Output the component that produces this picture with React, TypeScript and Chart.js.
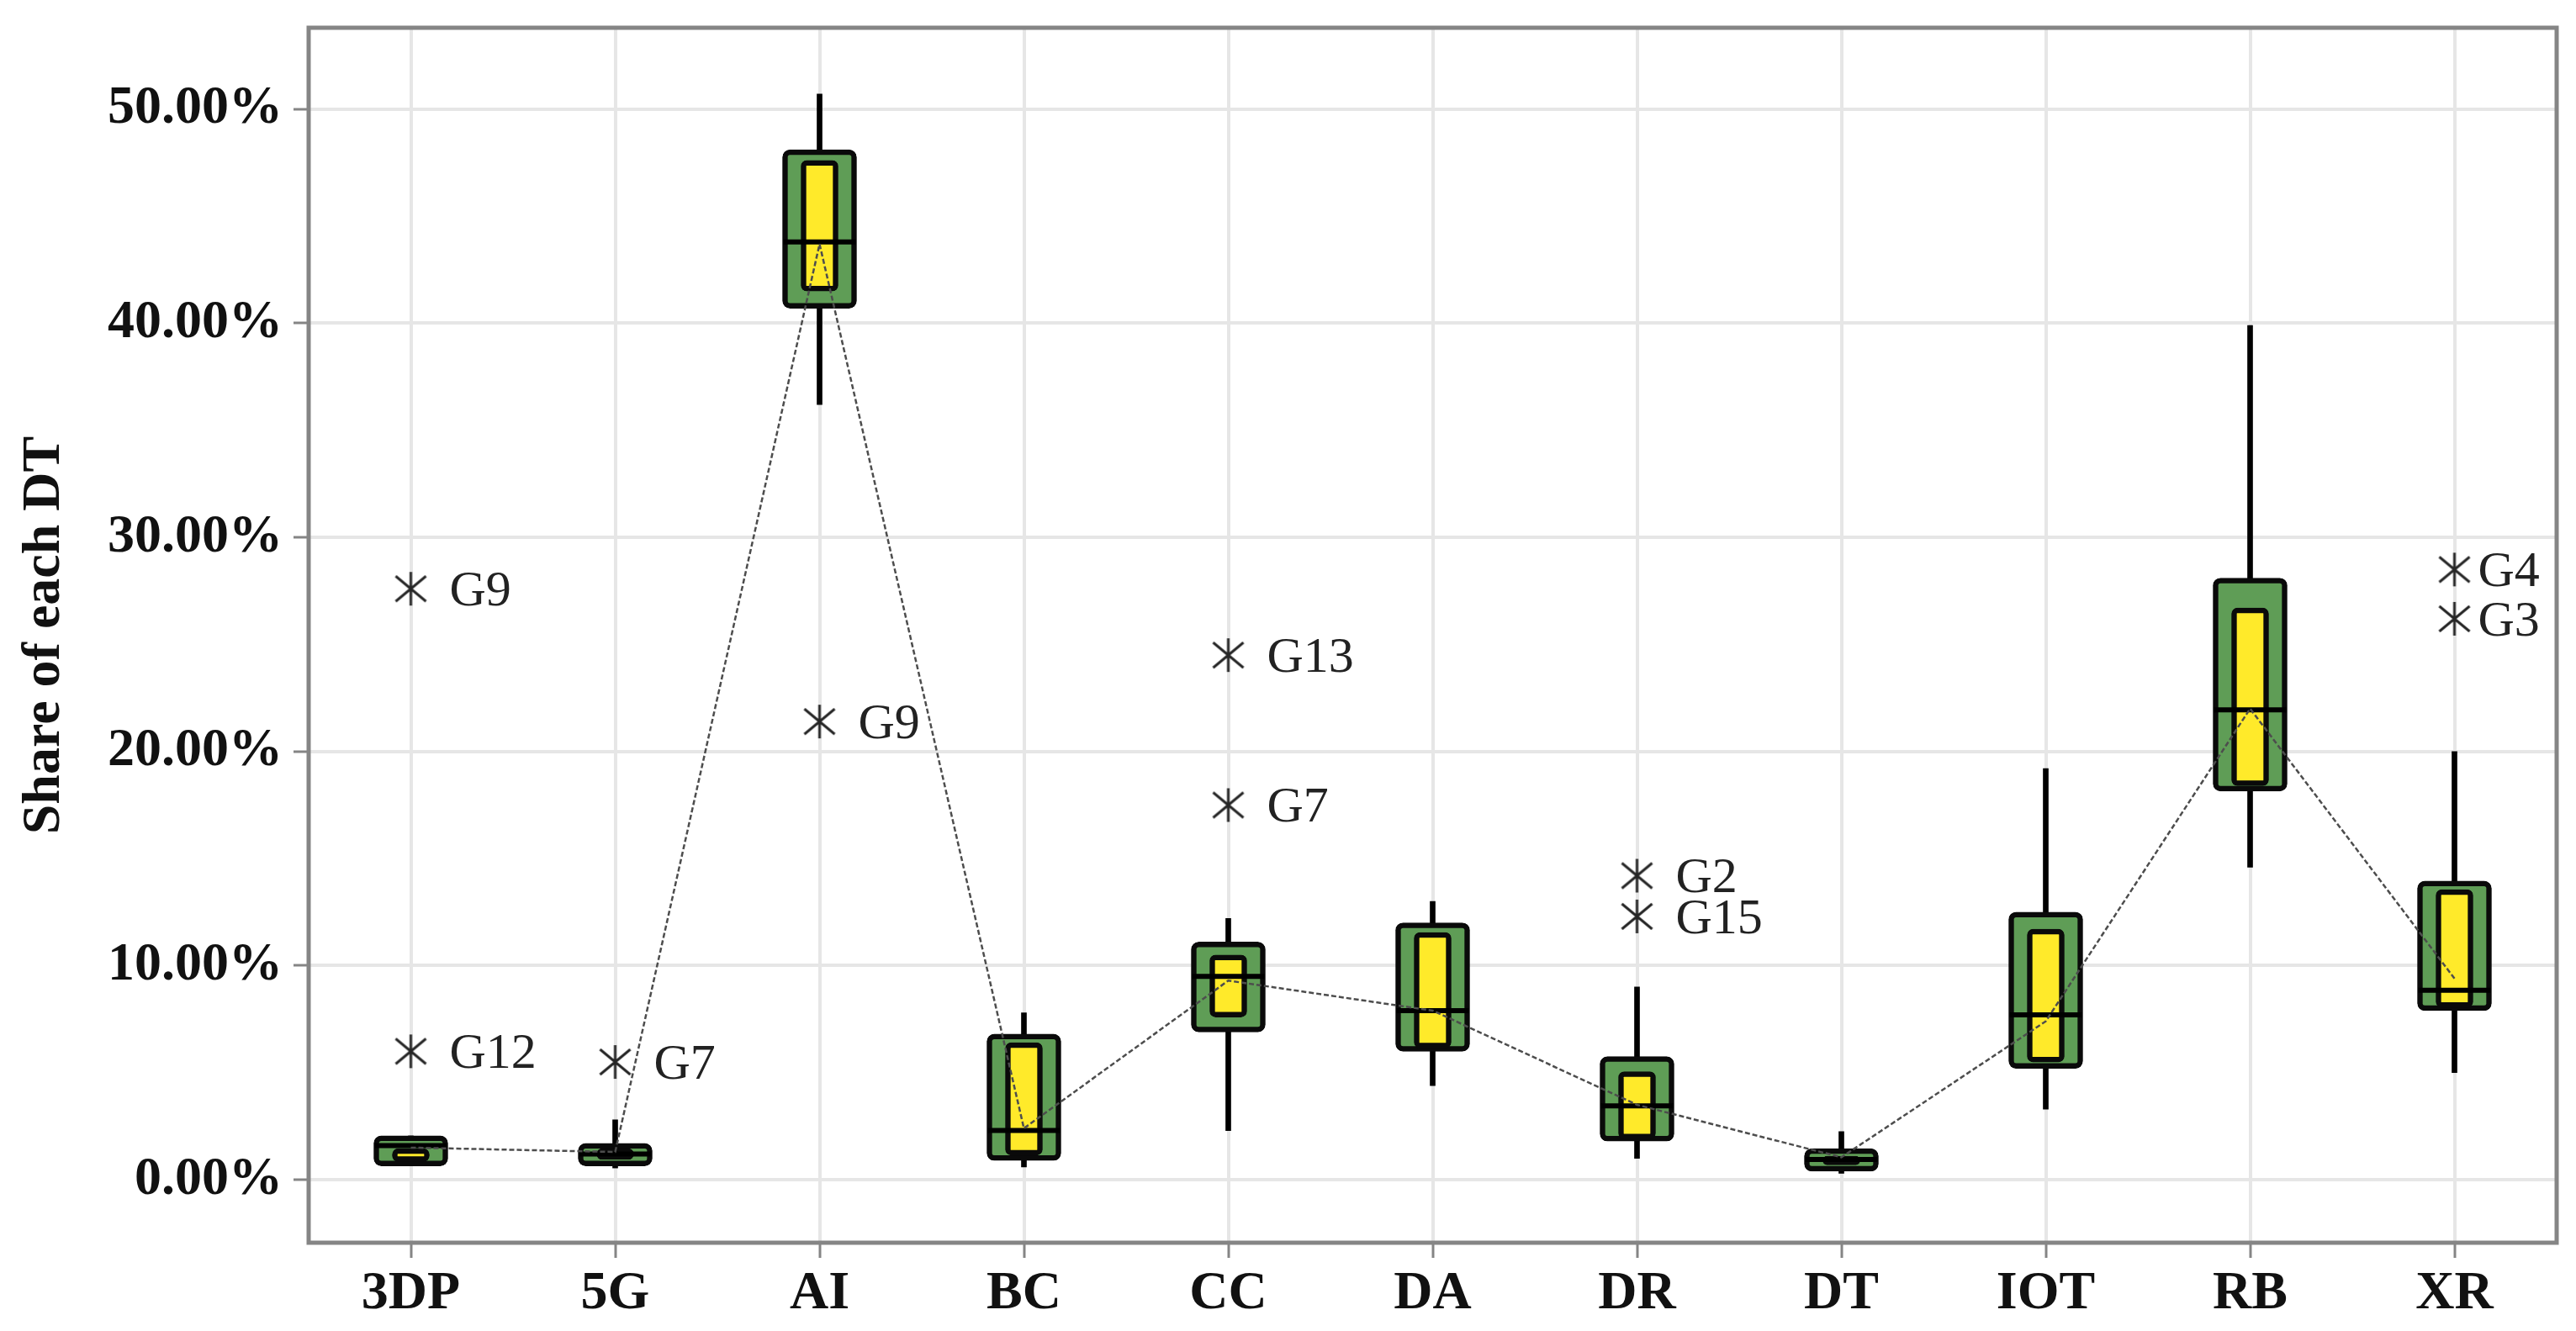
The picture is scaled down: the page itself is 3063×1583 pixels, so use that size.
import React, { useEffect, useRef } from "react";
import { Chart, registerables } from "chart.js";

Chart.register(...registerables);

const CATEGORIES = ["3DP", "5G", "AI", "BC", "CC", "DA", "DR", "DT", "IOT", "RB", "XR"];
const WHISKER_LOW = [0.65, 0.55, 36.2, 0.6, 2.3, 4.4, 1.0, 0.3, 3.3, 14.6, 5.0];
const Q1 = [0.65, 0.65, 40.7, 0.9, 6.9, 6.0, 1.8, 0.4, 5.2, 18.15, 7.9];
const MEDIAN = [1.6, 1.2, 43.8, 2.3, 9.5, 7.9, 3.45, 0.95, 7.7, 21.95, 8.85];
const Q3 = [2.05, 1.7, 48.1, 6.8, 11.1, 12.0, 5.75, 1.45, 12.5, 28.1, 13.95];
const WHISKER_HIGH = [2.05, 2.8, 50.7, 7.8, 12.2, 13.0, 9.0, 2.25, 19.2, 39.9, 20.0];
const CI_LOW = [0.85, 0.95, 41.5, 1.15, 7.6, 6.15, 1.9, 0.7, 5.5, 18.4, 8.05];
const CI_HIGH = [1.45, 1.45, 47.6, 6.4, 10.5, 11.55, 5.05, 1.1, 11.7, 26.7, 13.55];
const MEAN = [1.5, 1.3, 43.7, 2.4, 9.3, 7.9, 3.5, 1.05, 7.4, 22.0, 9.4];

const OUTLIER_CATS = ["3DP", "3DP", "5G", "AI", "CC", "CC", "DR", "DR", "XR", "XR"];
const OUTLIER_VALUES = [27.6, 6.0, 5.5, 21.4, 24.5, 17.5, 14.2, 12.3, 28.5, 26.2];
const OUTLIER_LABELS = ["G9", "G12", "G7", "G9", "G13", "G7", "G2", "G15", "G4", "G3"];

const Y_TICKS = [0, 10, 20, 30, 40, 50];
const Y_MIN = -2.94;
const Y_MAX = 53.8;
const Y_TITLE = "Share of each DT";

const FONT = "'Liberation Serif', 'Times New Roman', serif";
const GREEN = "#5f9d56";
const YELLOW = "#ffea2a";

function makeStar(): HTMLCanvasElement {
  const c = document.createElement("canvas");
  c.width = 42;
  c.height = 42;
  const g = c.getContext("2d")!;
  g.strokeStyle = "#262626";
  g.lineWidth = 3;
  g.lineCap = "butt";
  g.beginPath();
  g.moveTo(21, 1);
  g.lineTo(21, 41);
  g.moveTo(3, 6);
  g.lineTo(39, 36);
  g.moveTo(3, 36);
  g.lineTo(39, 6);
  g.stroke();
  return c;
}

const framePlugin = {
  id: "frameAndLabels",
  afterDraw(chart: any) {
    const { ctx, chartArea } = chart;
    ctx.save();
    const idx = chart.data.datasets.findIndex((d: any) => d.label === "outliers");
    const meta = chart.getDatasetMeta(idx);
    ctx.font = `60px ${FONT}`;
    ctx.fillStyle = "#222";
    ctx.textBaseline = "middle";
    ctx.textAlign = "left";
    meta.data.forEach((el: any, i: number) => {
      const isLast = OUTLIER_CATS[i] === CATEGORIES[CATEGORIES.length - 1];
      const gap = isLast ? 28 : 46;
      ctx.fillText(OUTLIER_LABELS[i], el.x + gap, el.y + 4);
    });
    ctx.strokeStyle = "#858585";
    ctx.lineWidth = 5;
    ctx.strokeRect(
      chartArea.left,
      chartArea.top,
      chartArea.right - chartArea.left,
      chartArea.bottom - chartArea.top
    );
    ctx.restore();
  },
};

export default function App() {
  const ref = useRef<HTMLCanvasElement | null>(null);

  useEffect(() => {
    if (!ref.current) return;
    const star = makeStar();
    const chart = new Chart(ref.current, {
      type: "bar",
      data: {
        labels: CATEGORIES,
        datasets: [
          {
            type: "line",
            label: "mean",
            data: MEAN,
            borderColor: "#4d4d4d",
            borderWidth: 2.5,
            borderDash: [6, 3],
            pointRadius: 0,
            tension: 0,
            fill: false,
            order: 0,
          } as any,
          {
            type: "line",
            label: "outliers",
            data: OUTLIER_CATS.map((c, i) => ({ x: c, y: OUTLIER_VALUES[i] })),
            showLine: false,
            pointStyle: star,
            pointRadius: 20,
            order: 1,
          } as any,
          {
            type: "line",
            label: "median",
            data: MEDIAN,
            showLine: false,
            pointStyle: "line",
            pointRadius: 43,
            pointBorderWidth: 6,
            pointBorderColor: "#000",
            pointBackgroundColor: "#000",
            order: 2,
          } as any,
          {
            type: "bar",
            label: "ci",
            data: CI_LOW.map((l, i) => [l, CI_HIGH[i]]),
            backgroundColor: YELLOW,
            borderColor: "#0a0a0a",
            borderWidth: 6.5,
            borderSkipped: false,
            borderRadius: 7,
            barThickness: 44,
            grouped: false,
            order: 3,
          } as any,
          {
            type: "bar",
            label: "iqr",
            data: Q1.map((l, i) => [l, Q3[i]]),
            backgroundColor: GREEN,
            borderColor: "#0a0a0a",
            borderWidth: 6.5,
            borderSkipped: false,
            borderRadius: 9,
            barThickness: 88,
            grouped: false,
            order: 4,
          } as any,
          {
            type: "bar",
            label: "whisker",
            data: WHISKER_LOW.map((l, i) => [l, WHISKER_HIGH[i]]),
            backgroundColor: "#000",
            borderWidth: 0,
            barThickness: 6,
            grouped: false,
            order: 5,
          } as any,
        ],
      },
      options: {
        animation: false,
        responsive: false,
        devicePixelRatio: 1,
        events: [],
        layout: { autoPadding: false, padding: { top: 33, right: 23, left: 0, bottom: 0 } },
        plugins: {
          legend: { display: false },
          tooltip: { enabled: false },
        },
        scales: {
          x: {
            type: "category",
            offset: true,
            grid: {
              offset: false,
              color: "#e6e6e6",
              lineWidth: 4,
              tickColor: "#858585",
              tickLength: 18,
              tickWidth: 3,
            },
            border: { display: false },
            ticks: {
              padding: 5,
              color: "#111",
              font: { family: FONT, size: 64, weight: "bold" },
            },
            afterFit: (s: any) => {
              s.height = 105;
              s.paddingLeft = 0;
              s.paddingRight = 0;
              s.paddingTop = 0;
              s.paddingBottom = 0;
            },
          },
          y: {
            type: "linear",
            min: Y_MIN,
            max: Y_MAX,
            grid: {
              color: "#e6e6e6",
              lineWidth: 4,
              tickColor: "#858585",
              tickLength: 18,
              tickWidth: 3,
            },
            border: { display: false },
            ticks: {
              padding: 13,
              color: "#111",
              font: { family: FONT, size: 64, weight: "bold" },
              callback: (v: any) => Number(v).toFixed(2) + "%",
            },
            afterBuildTicks: (s: any) => {
              s.ticks = Y_TICKS.map((v) => ({ value: v }));
            },
            title: {
              display: true,
              text: Y_TITLE,
              color: "#111",
              font: { family: FONT, size: 64, weight: "bold" },
              padding: { top: 15, bottom: 0 },
            },
            afterFit: (s: any) => {
              s.width = 367;
              s.paddingTop = 0;
              s.paddingBottom = 0;
              s.paddingLeft = 0;
              s.paddingRight = 0;
            },
          },
        },
      } as any,
      plugins: [framePlugin],
    });
    return () => chart.destroy();
  }, []);

  return (
    <div style={{ position: "absolute", left: 0, top: 0, width: 3063, height: 1583, background: "#fff" }}>
      <canvas ref={ref} width={3063} height={1583} style={{ width: 3063, height: 1583, display: "block" }} />
    </div>
  );
}
